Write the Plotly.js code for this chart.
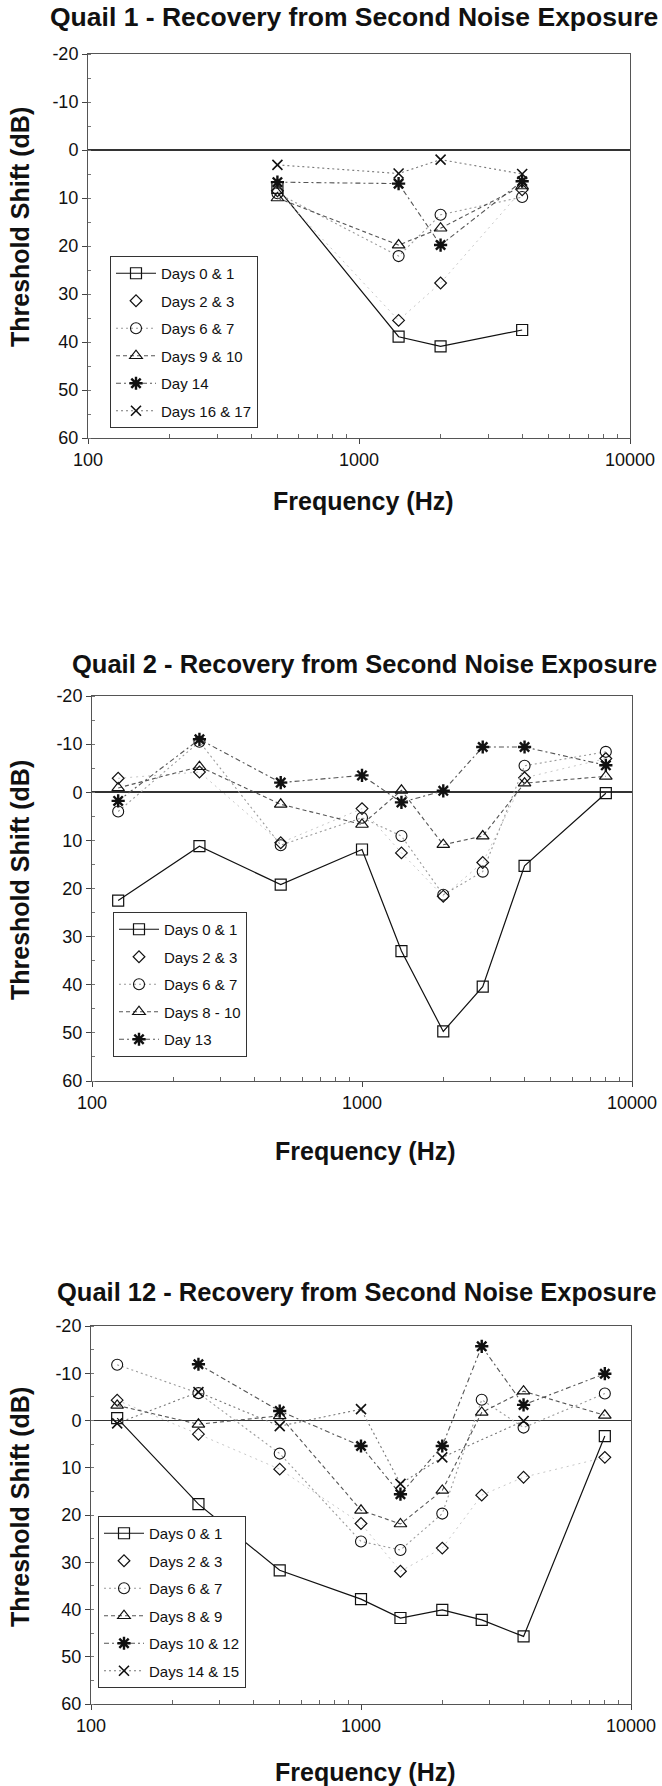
<!DOCTYPE html>
<html>
<head>
<meta charset="utf-8">
<script src="https://cdn.plot.ly/plotly-3.0.1.min.js"></script>
<style>html,body{margin:0;padding:0;background:#fff;}#chart{width:662px;height:1786px;}</style>
</head>
<body>
<div id="chart"></div>
<script>
// ---------- DATA ----------
const tickVals = [100, 1000, 10000];
const tickText = ['100', '1000', '10000'];
const yTickVals = [-20, -10, 0, 10, 20, 30, 40, 50, 60];
const yTickText = ['-20', '-10', '0', '10', '20', '30', '40', '50', '60'];

// Quail 1
const q1Freq = [500, 1400, 2000, 4000];
const q1Labels = ['Days 0 & 1', 'Days 2 & 3', 'Days 6 & 7', 'Days 9 & 10', 'Day 14', 'Days 16 & 17'];
const q1Days01 = [7.9, 38.9, 40.9, 37.5];
const q1Days23 = [8.5, 35.5, 27.7, 8.3];
const q1Days67 = [9.0, 22.1, 13.5, 9.8];
const q1Days910 = [10.0, 19.8, 16.3, 7.5];
const q1Day14 = [6.7, 7.0, 19.8, 6.5];
const q1Days1617 = [3.1, 4.9, 2.0, 5.0];

// Quail 2
const q2Freq = [125, 250, 500, 1000, 1400, 2000, 2800, 4000, 8000];
const q2Labels = ['Days 0 & 1', 'Days 2 & 3', 'Days 6 & 7', 'Days 8 - 10', 'Day 13'];
const q2Days01 = [22.5, 11.2, 19.2, 11.9, 33.0, 49.7, 40.4, 15.3, 0.2];
const q2Days23 = [-2.9, -4.2, 10.5, 3.4, 12.6, 21.6, 14.6, -3.0, -7.0];
const q2Days67 = [4.0, -10.5, 11.0, 5.3, 9.1, 21.3, 16.5, -5.5, -8.4];
const q2Days810 = [-0.9, -5.3, 2.5, 6.7, -0.4, 10.9, 9.1, -1.9, -3.3];
const q2Day13 = [1.8, -11.0, -2.0, -3.5, 2.1, -0.3, -9.4, -9.4, -5.6];

// Quail 12
const q3Freq = [125, 250, 500, 1000, 1400, 2000, 2800, 4000, 8000];
const q3Labels = ['Days 0 & 1', 'Days 2 & 3', 'Days 6 & 7', 'Days 8 & 9', 'Days 10 & 12', 'Days 14 & 15'];
const q3Days01 = [-0.5, 17.7, 31.7, 37.8, 41.8, 40.1, 42.2, 45.7, 3.3];
const q3Days23 = [-4.3, 2.9, 10.3, 21.8, 31.9, 27.0, 15.8, 12.0, 7.8];
const q3Days67 = [-11.8, -5.8, 7.0, 25.6, 27.4, 19.7, -4.4, 1.5, -5.7];
const q3Days89 = [-3.2, 0.8, -1.0, 19.0, 21.9, 14.8, -1.7, -6.2, -1.1];
const q3Days1012 = [null, -11.9, -2.0, 5.4, 15.6, 5.4, -15.7, -3.3, -9.9];
const q3Days1415 = [0.6, -6.0, 1.2, -2.4, 13.4, 7.8, null, 0.1, null];

const chartTitles = ['Quail 1 - Recovery from Second Noise Exposure',
                     'Quail 2 - Recovery from Second Noise Exposure',
                     'Quail 12 - Recovery from Second Noise Exposure'];

// ---------- STYLES ----------
const FONT = 'Liberation Sans, Arial, Helvetica, sans-serif';
const W = 662, H = 1786;
const styles = {
  square:   {marker:{symbol:'square-open', size:11, color:'#111', line:{width:1.2, color:'#111'}}, line:{color:'#111', width:1.2, dash:'solid'}, mode:'lines+markers'},
  diamond:  {marker:{symbol:'diamond-open', size:9, color:'#111', line:{width:1.2, color:'#111'}}, line:{color:'#c8c8c8', width:1, dash:'2px,4px'}, mode:'markers', faint:true},
  circle:   {marker:{symbol:'circle-open', size:11, color:'#111', line:{width:1.1, color:'#111'}}, line:{color:'#9a9a9a', width:1.1, dash:'2px,3px'}, mode:'lines+markers'},
  triangle: {marker:{symbol:'triangle-up-open', size:11, color:'#111', line:{width:1.2, color:'#111'}}, line:{color:'#555', width:1.1, dash:'4px,3px'}, mode:'lines+markers'},
  star:     {marker:{symbol:'asterisk-open', size:11, color:'#111', line:{width:2.4, color:'#111'}}, line:{color:'#555', width:1.1, dash:'5px,3px,2px,3px'}, mode:'lines+markers'},
  xmark:    {marker:{symbol:'x-thin-open', size:10, color:'#111', line:{width:1.6, color:'#111'}}, line:{color:'#777', width:1.1, dash:'2px,3px'}, mode:'lines+markers'}
};

// plot-area pixel geometry for each panel
const panels = [
  {x0:88, x1:630, y0:54,   y1:438,  titleX:48, titleY:17,   titleSize:26.5, xTitleY:501,  yTitleC:227,  legX:110, legY:256},
  {x0:92, x1:632, y0:696,  y1:1081, titleX:70, titleY:664,  titleSize:25.5, xTitleY:1151, yTitleC:880,  legX:113, legY:912},
  {x0:91, x1:631, y0:1326, y1:1704, titleX:55, titleY:1292, titleSize:25.5, xTitleY:1772, yTitleC:1507, legX:98,  legY:1516}
];

const datasets = [
  {freq:q1Freq, labels:q1Labels, series:[q1Days01,q1Days23,q1Days67,q1Days910,q1Day14,q1Days1617], kinds:['square','diamond','circle','triangle','star','xmark']},
  {freq:q2Freq, labels:q2Labels, series:[q2Days01,q2Days23,q2Days67,q2Days810,q2Day13], kinds:['square','diamond','circle','triangle','star']},
  {freq:q3Freq, labels:q3Labels, series:[q3Days01,q3Days23,q3Days67,q3Days89,q3Days1012,q3Days1415], kinds:['square','diamond','circle','triangle','star','xmark']}
];

const traces = [];
const layout = {
  width: W, height: H,
  margin: {l:0, r:0, t:0, b:0},
  paper_bgcolor: '#fff', plot_bgcolor: '#fff',
  font: {family: FONT, color: '#111'},
  showlegend: true,
  annotations: []
};

const minorX = [200,300,400,500,600,700,800,900,2000,3000,4000,5000,6000,7000,8000,9000];

datasets.forEach((ds, i) => {
  const p = panels[i];
  const n = i + 1;
  const xa = 'x' + (n === 1 ? '' : n), ya = 'y' + (n === 1 ? '' : n);
  const legName = 'legend' + (n === 1 ? '' : n);
  ds.series.forEach((vals, k) => {
    const st = styles[ds.kinds[k]];
    if (st.faint) {
      traces.push({x: ds.freq, y: vals, xaxis: xa, yaxis: ya, mode: 'lines', line: st.line,
                   connectgaps: true, showlegend: false, hoverinfo: 'skip'});
    }
    traces.push({x: ds.freq, y: vals, xaxis: xa, yaxis: ya, name: ds.labels[k],
                 mode: st.mode, marker: st.marker, line: st.line, connectgaps: true,
                 legend: legName, legendgroup: 'g' + n + '_' + k, cliponaxis: false});
  });
  const xdom = [p.x0 / W, p.x1 / W];
  const ydom = [1 - p.y1 / H, 1 - p.y0 / H];
  layout['xaxis' + (n === 1 ? '' : n)] = {
    domain: xdom, anchor: ya, type: 'log', range: [2, 4],
    tickmode: 'array', tickvals: tickVals, ticktext: tickText,
    ticks: 'outside', ticklen: 5, tickcolor: '#444', tickwidth: 1,
    showline: true, mirror: true, linecolor: '#555', linewidth: 1,
    showgrid: false, zeroline: false,
    minor: {tickmode: 'array', tickvals: minorX, ticks: 'inside', ticklen: 4, tickcolor: '#666', showgrid: false},
    tickfont: {family: FONT, size: 18, color: '#111'}
  };
  layout['yaxis' + (n === 1 ? '' : n)] = {
    domain: ydom, anchor: xa, range: [60, -20], autorange: false,
    tickmode: 'array', tickvals: yTickVals, ticktext: yTickText,
    ticks: 'outside', ticklen: 5, tickcolor: '#444', tickwidth: 1,
    showline: true, mirror: true, linecolor: '#555', linewidth: 1,
    showgrid: false, zeroline: true, zerolinecolor: '#333', zerolinewidth: 1.6,
    minor: {dtick: 5, ticks: 'inside', ticklen: 3, tickcolor: '#777', showgrid: false},
    tickfont: {family: FONT, size: 18, color: '#111'}
  };
  layout[legName] = {
    x: p.legX / W, y: 1 - p.legY / H, xref: 'paper', yref: 'paper',
    xanchor: 'left', yanchor: 'top',
    bgcolor: '#fff', bordercolor: '#333', borderwidth: 1,
    font: {family: FONT, size: 15, color: '#111'},
    itemwidth: 40, tracegroupgap: 5, traceorder: 'grouped', itemclick: false
  };
  // chart title
  layout.annotations.push({text: '<b>' + chartTitles[i] + '</b>', xref: 'paper', yref: 'paper',
    x: p.titleX / W, y: 1 - p.titleY / H, xanchor: 'left', yanchor: 'middle', showarrow: false,
    font: {family: FONT, size: p.titleSize, color: '#111'}});
  // x-axis title
  layout.annotations.push({text: '<b>Frequency (Hz)</b>', xref: 'paper', yref: 'paper',
    x: ((p.x0 + p.x1) / 2 + 4) / W, y: 1 - p.xTitleY / H, xanchor: 'center', yanchor: 'middle', showarrow: false,
    font: {family: FONT, size: 25, color: '#111'}});
  // y-axis title
  layout.annotations.push({text: '<b>Threshold Shift (dB)</b>', xref: 'paper', yref: 'paper',
    x: 20 / W, y: 1 - p.yTitleC / H, xanchor: 'center', yanchor: 'middle', showarrow: false, textangle: -90,
    font: {family: FONT, size: 25, color: '#111'}});
});

Plotly.newPlot('chart', traces, layout, {staticPlot: true, displayModeBar: false});
</script>
</body>
</html>
